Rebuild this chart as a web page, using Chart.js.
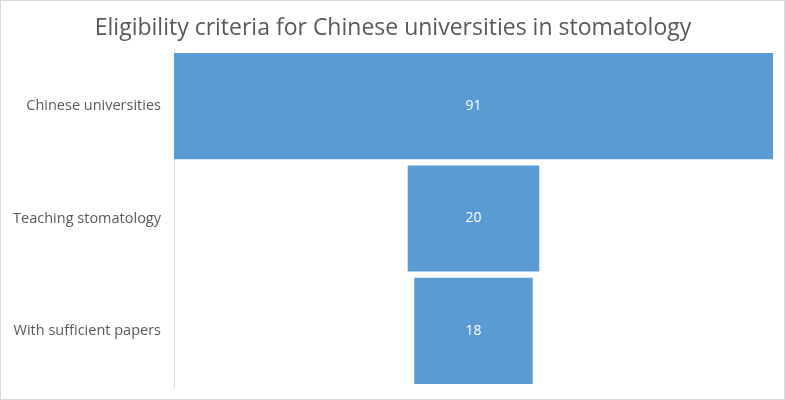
<!DOCTYPE html>
<html>
<head>
<meta charset="utf-8">
<script src="https://cdn.jsdelivr.net/npm/chart.js@4"></script>
<style>
  html, body { margin: 0; padding: 0; background: #fff; }
  #wrap { position: relative; width: 783px; height: 398px; border: 1px solid #d9d9d9; }
</style>
</head>
<body>
<div id="wrap"><canvas id="funnelChart" width="783" height="398"></canvas></div>
<script>
const chartTitle = 'Eligibility criteria for Chinese universities in stomatology';
const stages = ['Chinese universities', 'Teaching stomatology', 'With sufficient papers'];
const counts = [91, 20, 18];

const maxCount = Math.max(...counts);
const textColor = '#595959';
const fontFamily = "'Open Sans', 'Liberation Sans', sans-serif";

// title and white value labels are drawn here
const funnelText = {
  id: 'funnelText',
  afterDraw(chart) {
    const ctx = chart.ctx;
    ctx.save();
    ctx.fillStyle = textColor;
    ctx.font = '23px ' + fontFamily;
    ctx.textAlign = 'center';
    ctx.textBaseline = 'middle';
    ctx.fillText(chartTitle, 392, 27);

    const meta = chart.getDatasetMeta(0);
    ctx.fillStyle = '#ffffff';
    ctx.font = '14px ' + fontFamily;
    meta.data.forEach((bar, i) => {
      ctx.fillText(String(counts[i]), chart.scales.x.getPixelForValue(0), bar.y);
    });
    ctx.restore();
  }
};

new Chart(document.getElementById('funnelChart').getContext('2d'), {
  type: 'bar',
  data: {
    labels: stages,
    datasets: [{
      data: counts.map(v => [-v / 2, v / 2]),
      backgroundColor: '#5b9bd5',
      borderWidth: 0,
      categoryPercentage: 0.945,
      barPercentage: 1
    }]
  },
  options: {
    indexAxis: 'y',
    responsive: false,
    animation: false,
    layout: { padding: { top: 49, right: 11, bottom: 12, left: 0 } },
    plugins: {
      legend: { display: false },
      tooltip: { enabled: false },
      title: { display: false }
    },
    scales: {
      x: {
        display: false,
        min: -maxCount / 2,
        max: maxCount / 2
      },
      y: {
        grid: { display: false, drawTicks: false },
        border: { display: true, color: '#d9d9d9' },
        ticks: {
          color: textColor,
          font: { size: 14.5, family: fontFamily },
          padding: 13
        },
        afterFit(scale) {
          scale.width = 173;
          scale.paddingTop = 0;
          scale.paddingBottom = 0;
        }
      }
    }
  },
  plugins: [funnelText]
});
</script>
</body>
</html>
